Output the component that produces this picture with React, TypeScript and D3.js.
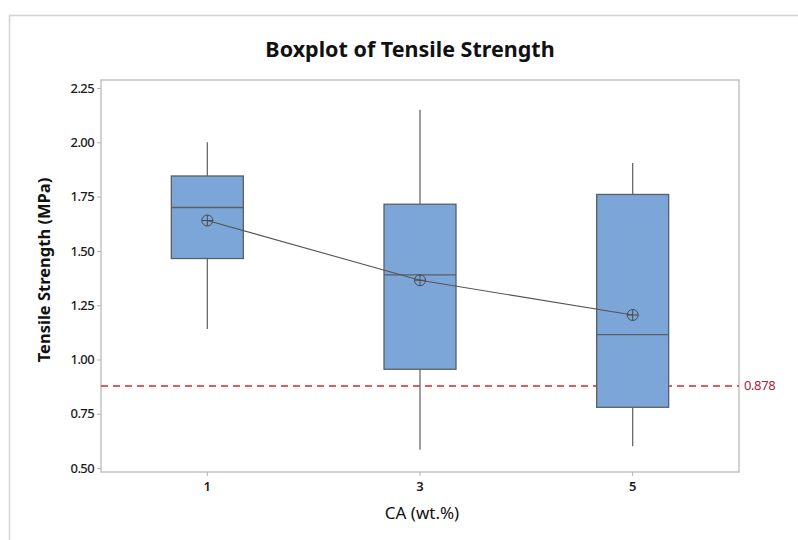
import React, { useEffect, useRef } from 'react';
import * as d3 from 'd3';

// CA content groups and box stats
const categories = ['1', '3', '5'];
const whiskerLow = [1.14, 0.585, 0.6];
const q1 = [1.465, 0.955, 0.78];
const median = [1.7, 1.39, 1.115];
const q3 = [1.845, 1.715, 1.76];
const whiskerHigh = [2.0, 2.15, 1.905];
const means = [1.64, 1.365, 1.205];
const yTicks = [0.5, 0.75, 1.0, 1.25, 1.5, 1.75, 2.0, 2.25];
const refValue = 0.878;

const W = 798;
const H = 540;
const plot = { left: 101, top: 80, right: 739, bottom: 472 };

const App = () => {
  const ref = useRef<SVGSVGElement>(null);

  useEffect(() => {
    const svg = d3.select(ref.current);
    svg.selectAll('*').remove();

    const font = "'Noto Sans', 'Open Sans', sans-serif";

    // outer frame
    svg.append('path')
      .attr('d', `M9.5,${H} V15.5 H${W}`)
      .attr('fill', 'none')
      .attr('stroke', '#d4d4d4')
      .attr('stroke-width', 1.5);

    const x = d3.scaleBand()
      .domain(categories)
      .range([plot.left, plot.right])
      .padding(0);

    const y = d3.scaleLinear()
      .domain([0.482, 2.287])
      .range([plot.bottom, plot.top]);

    const cx = (c: string) => (x(c) as number) + x.bandwidth() / 2;
    const boxW = 72;

    // plot frame
    svg.append('rect')
      .attr('x', plot.left)
      .attr('y', plot.top)
      .attr('width', plot.right - plot.left)
      .attr('height', plot.bottom - plot.top)
      .attr('fill', 'none')
      .attr('stroke', '#b4b4b4')
      .attr('stroke-width', 1.2);

    // y axis
    const yAxis = svg.append('g')
      .attr('transform', `translate(${plot.left},0)`)
      .call(d3.axisLeft(y).tickValues(yTicks).tickFormat(d3.format('.2f')).tickSize(4).tickPadding(3));
    yAxis.select('.domain').remove();
    yAxis.selectAll('line').attr('stroke', '#b4b4b4');
    yAxis.selectAll('text')
      .attr('font-family', font)
      .attr('font-size', 13)
      .attr('font-weight', 500)
      .attr('fill', '#1a1a1a')
      .attr('letter-spacing', -0.6);

    // x axis
    const xAxis = svg.append('g')
      .attr('transform', `translate(0,${plot.bottom})`)
      .call(d3.axisBottom(x).tickSize(4).tickPadding(6));
    xAxis.select('.domain').remove();
    xAxis.selectAll('line').attr('stroke', '#b4b4b4');
    xAxis.selectAll('text')
      .attr('font-family', font)
      .attr('font-size', 13)
      .attr('font-weight', 600)
      .attr('fill', '#1a1a1a');

    // reference line
    svg.append('line')
      .attr('x1', plot.left)
      .attr('x2', plot.right)
      .attr('y1', y(refValue))
      .attr('y2', y(refValue))
      .attr('stroke', '#e0242a')
      .attr('stroke-width', 1.4)
      .attr('stroke-dasharray', '7,5');

    const g = svg.append('g');
    categories.forEach((c, i) => {
      const xc = cx(c);
      g.append('line')
        .attr('x1', xc).attr('x2', xc)
        .attr('y1', y(whiskerHigh[i])).attr('y2', y(q3[i]))
        .attr('stroke', '#6a6a6a').attr('stroke-width', 1.3);
      g.append('line')
        .attr('x1', xc).attr('x2', xc)
        .attr('y1', y(q1[i])).attr('y2', y(whiskerLow[i]))
        .attr('stroke', '#6a6a6a').attr('stroke-width', 1.3);
      g.append('rect')
        .attr('x', xc - boxW / 2)
        .attr('y', y(q3[i]))
        .attr('width', boxW)
        .attr('height', y(q1[i]) - y(q3[i]))
        .attr('fill', '#7ca6d8')
        .attr('stroke', '#5a5f66')
        .attr('stroke-width', 1.3);
      g.append('line')
        .attr('x1', xc - boxW / 2).attr('x2', xc + boxW / 2)
        .attr('y1', y(median[i])).attr('y2', y(median[i]))
        .attr('stroke', '#5a5f66').attr('stroke-width', 1.3);
    });

    // mean connect line
    const line = d3.line<number>()
      .x((_, i) => cx(categories[i]))
      .y(d => y(d));
    svg.append('path')
      .datum(means)
      .attr('d', line)
      .attr('fill', 'none')
      .attr('stroke', '#555')
      .attr('stroke-width', 1.1);

    // mean symbols
    const r = 5.5;
    means.forEach((m, i) => {
      const xc = cx(categories[i]);
      const yc = y(m);
      const s = svg.append('g').attr('stroke', '#4a4a4a').attr('stroke-width', 1).attr('fill', 'none');
      s.append('circle').attr('cx', xc).attr('cy', yc).attr('r', r);
      s.append('line').attr('x1', xc - r).attr('x2', xc + r).attr('y1', yc).attr('y2', yc);
      s.append('line').attr('x1', xc).attr('x2', xc).attr('y1', yc - r).attr('y2', yc + r);
    });

    // reference label
    svg.append('text')
      .attr('x', plot.right + 5)
      .attr('y', y(refValue) + 4.5)
      .attr('font-family', font)
      .attr('font-size', 13)
      .attr('fill', '#a3263a')
      .attr('letter-spacing', -0.4)
      .text(d3.format('.3f')(refValue));

    // titles
    svg.append('text')
      .attr('x', 410)
      .attr('y', 57)
      .attr('text-anchor', 'middle')
      .attr('font-family', font)
      .attr('font-size', 21.5)
      .attr('font-weight', 700)
      .attr('fill', '#111')
      .text('Boxplot of Tensile Strength');

    svg.append('text')
      .attr('x', 422)
      .attr('y', 519)
      .attr('text-anchor', 'middle')
      .attr('font-family', font)
      .attr('font-size', 17)
      .attr('fill', '#111')
      .text('CA (wt.%)');

    svg.append('text')
      .attr('transform', `translate(50,270) rotate(-90)`)
      .attr('text-anchor', 'middle')
      .attr('font-family', font)
      .attr('font-size', 16.5)
      .attr('font-weight', 700)
      .attr('fill', '#111')
      .text('Tensile Strength (MPa)');
  }, []);

  return (
    <svg ref={ref} width={W} height={H} style={{ position: 'absolute', left: 0, top: 0, background: '#fff' }} />
  );
};

export default App;
